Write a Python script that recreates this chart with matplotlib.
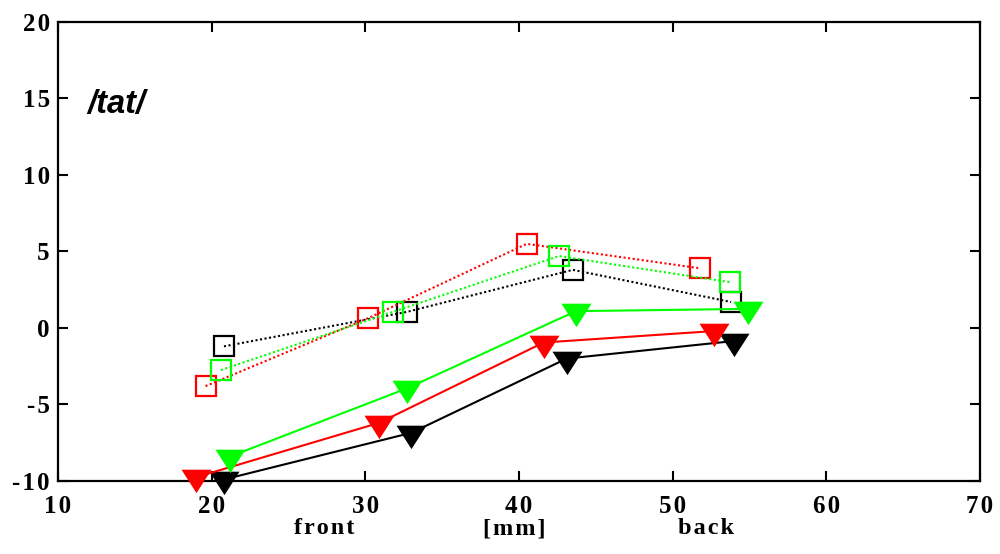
import matplotlib
matplotlib.use("Agg")
import matplotlib.pyplot as plt

# tongue positions (mm) and values for /tat/
sq_black_x = [20.8, 32.7, 43.5, 53.8]
sq_black_y = [-1.2, 1.05, 3.8, 1.7]
sq_red_x = [19.6, 30.2, 40.5, 51.8]
sq_red_y = [-3.8, 0.65, 5.5, 3.9]
sq_green_x = [20.6, 31.8, 42.6, 53.7]
sq_green_y = [-2.75, 1.05, 4.7, 3.0]

tri_black_x = [20.8, 33.0, 43.1, 54.0]
tri_black_y = [-9.9, -6.85, -2.0, -0.85]
tri_red_x = [19.0, 30.9, 41.6, 52.7]
tri_red_y = [-9.75, -6.2, -0.95, -0.2]
tri_green_x = [21.2, 32.7, 43.7, 54.9]
tri_green_y = [-8.4, -3.95, 1.1, 1.25]

x_ticks = [10, 20, 30, 40, 50, 60, 70]
y_ticks = [-10, -5, 0, 5, 10, 15, 20]
region_labels = ["front", "[mm]", "back"]
region_pos = [27.3, 39.7, 52.2]

serif = ["Liberation Serif", "DejaVu Serif"]
SP = "\u200a"


def spaced(s, sp=SP):
    return sp.join(s)


def main():
    fig = plt.figure(figsize=(10, 5.54), dpi=100)
    ax = fig.add_axes([0.058, 0.1318, 0.922, 0.8285])

    # down triangle anchored at its centroid
    tri = [(-1, 0.52), (1, 0.52), (0, -1.04)]

    # dotted series with hollow squares
    for xs, ys, c in [(sq_black_x, sq_black_y, "black"),
                      (sq_red_x, sq_red_y, "red"),
                      (sq_green_x, sq_green_y, "#00ff00")]:
        ax.plot(xs, ys, color=c, lw=1.5, linestyle=(0, (1, 1.2)),
                marker="s", ms=14.8, mfc="none", mec=c, mew=1.6,
                clip_on=False, zorder=2)

    # solid series with filled triangles
    for xs, ys, c in [(tri_black_x, tri_black_y, "black"),
                      (tri_red_x, tri_red_y, "red"),
                      (tri_green_x, tri_green_y, "#00ff00")]:
        ax.plot(xs, ys, color=c, lw=1.5, marker=tri, ms=22.5,
                mfc=c, mec="none", clip_on=False, zorder=3)

    ax.set_xlim(10, 70)
    ax.set_ylim(-10, 20)

    ax.set_xticks(x_ticks)
    ax.set_xticklabels([spaced(str(t)) for t in x_ticks])
    ax.set_yticks(y_ticks)
    ylabels = []
    for t in y_ticks:
        if t < 0:
            ylabels.append("-" + SP + spaced(str(-t)))
        else:
            ylabels.append(spaced(str(t)))
    ax.set_yticklabels(ylabels)

    for lab in ax.get_xticklabels() + ax.get_yticklabels():
        lab.set_family(serif)
        lab.set_fontweight("bold")
        lab.set_fontsize(18)

    ax.tick_params(axis="both", direction="in", length=7, width=1.5,
                   top=True, right=True)
    ax.tick_params(axis="x", pad=10)
    ax.tick_params(axis="y", pad=6)
    for sp in ax.spines.values():
        sp.set_linewidth(1.6)

    # labels under the x axis
    for lab, xp in zip(region_labels, region_pos):
        ax.text(xp, -0.104, spaced(lab),
                transform=ax.get_xaxis_transform(),
                ha="center", va="center", family=serif, fontweight="bold",
                fontsize=17.5)

    ax.text(11.9, 14.6, "/tat/", ha="left", va="center",
            family="Liberation Sans", fontweight="bold", style="italic",
            fontsize=23.5)

    fig.savefig("out.png", dpi=100)


if __name__ == "__main__":
    main()
